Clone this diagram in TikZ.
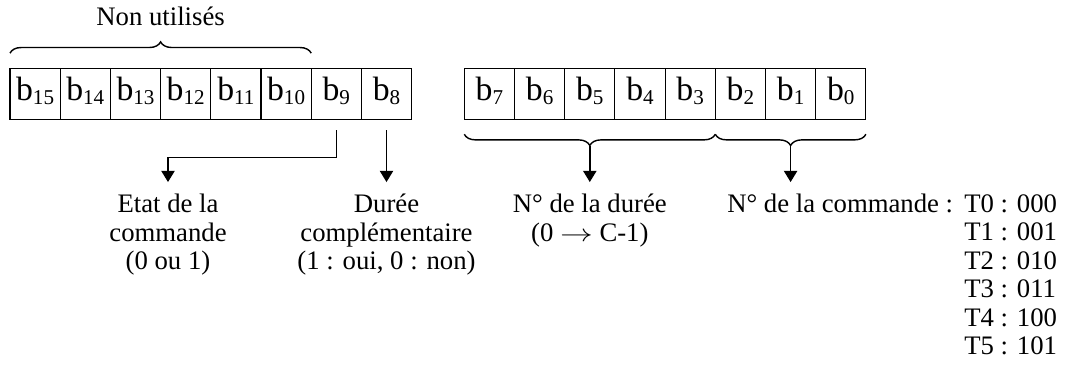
\documentclass[tikz,border=0pt]{standalone}
\usepackage{fontspec}
\usepackage{graphicx}
\setmainfont{Liberation Serif}
\usetikzlibrary{arrows.meta,positioning,decorations.pathreplacing}
\tikzset{
  bitbox/.style={rectangle,draw,line width=0.8pt,minimum width=1.255cm,
    minimum height=1.275cm,inner sep=0pt,outer sep=0pt,
    font=\fontsize{24}{24}\selectfont,text height=17pt,text depth=8pt},
  % accolades et fleches
  brace/.style={decorate,decoration={brace,amplitude=8pt,raise=10.7pt},
    line width=1pt},
  arr/.style={-{Triangle[length=8pt,width=9.5pt]},line width=1pt},
  lab/.style={align=center,inner sep=0pt,anchor=north}
}
\newcommand{\bitlab}[1]{b\raisebox{-3pt}{\fontsize{15}{15}\selectfont #1}}
\newcommand{\vers}{\scalebox{1.35}[1]{$\rightarrow$}}

\begin{document}
\begin{tikzpicture}[x=0.025cm,y=-0.025cm,font=\fontsize{19}{20.3}\selectfont]
  \useasboundingbox (0,0) rectangle (1067,367);
  % registre : poids forts puis poids faibles
  \foreach \i in {15,...,8}
    \node[bitbox] (b\i) at ({35.1+(15-\i)*50.2},93.7) {\bitlab{\i}};
  \foreach \i in {7,...,0}
    \node[bitbox] (b\i) at ({489.4+(7-\i)*50.2},93.7) {\bitlab{\i}};
  \draw[brace] (b15.north west) -- (b10.north east)
    node[midway,above=29.4pt,inner sep=0pt] (nonutil) {Non utilisés};
  \draw[brace] (b3.south east) -- (b7.south west) coordinate[midway] (mdur);
  \draw[brace] (b0.south east) -- (b2.south west) coordinate[midway] (mcmd);
  \node[lab] (etat) at (168,194) {Etat de la\\commande\\(0 ou 1)};
  \node[lab] (duree) at (b8 |- etat.north) {Durée\\complémentaire\\(1 : oui, 0 : non)};
  \node[lab] (num) at (mdur |- etat.north) {N° de la durée\\(0 \vers{} C-1)};
  \node[lab,anchor=north west] (cmd) at (727,194) {N° de la commande :};
  \node[lab,anchor=north west,align=left] (codes) at (964,194)
    {T0 : 000\\T1 : 001\\T2 : 010\\T3 : 011\\T4 : 100\\T5 : 101};
  \draw[arr,shorten <=7.8pt,shorten >=8.5pt] (b9.south) -- ++(0,38) -| (etat.north);
  \draw[arr,shorten <=7.8pt,shorten >=8.5pt] (b8.south) -- (duree.north);
  \draw[arr,shorten <=18.7pt,shorten >=8.5pt] (mdur) -- (num.north);
  \draw[arr,shorten <=18.7pt,shorten >=8.5pt] (mcmd) -- (mcmd |- cmd.north);
\end{tikzpicture}
\end{document}
